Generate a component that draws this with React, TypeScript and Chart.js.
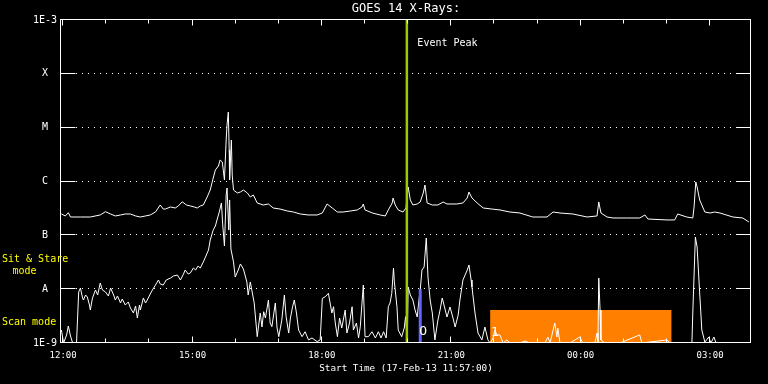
import React, { useEffect, useRef } from "react";
import { Chart, registerables } from "chart.js";

Chart.register(...registerables);

// ---------- data ----------
const titleText = "GOES 14 X-Rays:";
const xTitleText = "Start Time (17-Feb-13 11:57:00)";

// hours since 00:00 17-Feb-13 (values > 24 are on 18-Feb)
const xStart = 11.95;
const xEnd = 27.95;
const xTickHours = [12, 15, 18, 21, 24, 27];
const xTickLabels = ["12:00", "15:00", "18:00", "21:00", "00:00", "03:00"];
const xMinorHours = [13, 14, 16, 17, 19, 20, 22, 23, 25, 26];

const yTickValues = [1e-9, 1e-8, 1e-7, 1e-6, 1e-5, 1e-4, 1e-3];
const yTickLabels = ["1E-9", "A", "B", "C", "M", "X", "1E-3"];
const yGridValues = [1e-8, 1e-7, 1e-6, 1e-5, 1e-4];

// 1-8 Angstrom (long) channel
const longTimes = [
  11.96, 12.05, 12.12, 12.17, 12.4, 12.63, 12.86, 12.98, 13.1, 13.21,
  13.33, 13.44, 13.56, 13.68, 13.79, 13.91, 14.02, 14.14, 14.25, 14.32,
  14.37, 14.49, 14.6, 14.67, 14.76, 14.86, 14.95, 15.04, 15.11, 15.18,
  15.25, 15.34, 15.41, 15.48, 15.53, 15.6, 15.64, 15.69, 15.74, 15.78,
  15.8, 15.83, 15.85, 15.86, 15.9, 15.92, 15.95, 16.04, 16.11, 16.18,
  16.27, 16.34, 16.41, 16.5, 16.64, 16.76, 16.87, 17.03, 17.2, 17.34,
  17.5, 17.68, 17.89, 18.01, 18.12, 18.24, 18.36, 18.49, 18.66, 18.82,
  18.93, 18.96, 19.0, 19.17, 19.35, 19.47, 19.54, 19.63, 19.65, 19.7,
  19.77, 19.88, 19.95, 20.0, 20.05, 20.11, 20.21, 20.28, 20.35, 20.39,
  20.44, 20.56, 20.69, 20.81, 20.9, 21.13, 21.27, 21.37, 21.41, 21.48,
  21.6, 21.74, 21.94, 22.13, 22.36, 22.59, 22.89, 23.22, 23.36, 23.52,
  23.82, 24.15, 24.38, 24.42, 24.47, 24.61, 24.75, 25.07, 25.37, 25.49,
  25.56, 26.0, 26.18, 26.25, 26.46, 26.6, 26.63, 26.67, 26.7, 26.76,
  26.88, 27.0, 27.11, 27.23, 27.53, 27.76, 27.9,
];
const longFlux = [
  2.49e-7, 2.29e-7, 2.63e-7, 2.19e-7, 2.19e-7, 2.19e-7, 2.39e-7, 2.75e-7, 2.49e-7, 2.29e-7,
  2.39e-7, 2.49e-7, 2.49e-7, 2.29e-7, 2.19e-7, 2.29e-7, 2.39e-7, 2.71e-7, 3.66e-7, 3.08e-7,
  3.08e-7, 3.36e-7, 3.22e-7, 3.51e-7, 4.2e-7, 3.66e-7, 3.51e-7, 3.36e-7, 3.22e-7, 3.51e-7,
  3.66e-7, 5.16e-7, 6.95e-7, 1.16e-6, 1.64e-6, 1.94e-6, 2.51e-6, 2.3e-6, 1.07e-6, 5.9e-6,
  1.12e-5, 1.95e-5, 3.85e-6, 1.07e-6, 5.9e-6, 1.32e-6, 6.95e-7, 6.12e-7, 6.38e-7, 6.95e-7,
  6.12e-7, 5.16e-7, 5.61e-7, 3.99e-7, 3.66e-7, 3.82e-7, 3.22e-7, 3.08e-7, 2.83e-7, 2.71e-7,
  2.49e-7, 2.39e-7, 2.39e-7, 2.6e-7, 3.82e-7, 3.22e-7, 2.71e-7, 2.71e-7, 2.83e-7, 2.96e-7,
  3.36e-7, 3.82e-7, 2.96e-7, 2.6e-7, 2.39e-7, 2.29e-7, 2.96e-7, 3.99e-7, 4.94e-7, 3.66e-7,
  2.96e-7, 2.71e-7, 3.22e-7, 7.91e-7, 4.54e-7, 3.66e-7, 3.82e-7, 4.16e-7, 6.12e-7, 8.61e-7,
  3.99e-7, 3.66e-7, 3.66e-7, 4.16e-7, 3.82e-7, 3.82e-7, 3.99e-7, 4.94e-7, 6.38e-7, 4.94e-7,
  3.99e-7, 3.22e-7, 3.08e-7, 2.96e-7, 2.71e-7, 2.6e-7, 2.19e-7, 2.19e-7, 2.71e-7, 2.6e-7,
  2.49e-7, 2.19e-7, 2.29e-7, 4.16e-7, 2.6e-7, 2.19e-7, 2.1e-7, 2.1e-7, 2.1e-7, 2.39e-7,
  2.01e-7, 1.93e-7, 1.93e-7, 2.49e-7, 2.19e-7, 2.1e-7, 3.36e-7, 9.8e-7, 7.91e-7, 4.54e-7,
  2.71e-7, 2.6e-7, 2.71e-7, 2.6e-7, 2.19e-7, 2.1e-7, 1.77e-7,
];

// 0.5-4 Angstrom (short) channel
const shortTimes = [
  11.96, 12.01, 12.08, 12.12, 12.17, 12.22, 12.31, 12.36, 12.4, 12.45,
  12.47, 12.52, 12.56, 12.61, 12.63, 12.68, 12.75, 12.8, 12.86, 12.91,
  12.98, 13.05, 13.1, 13.17, 13.21, 13.26, 13.33, 13.37, 13.44, 13.51,
  13.56, 13.63, 13.68, 13.72, 13.77, 13.79, 13.86, 13.91, 13.95, 14.02,
  14.07, 14.14, 14.21, 14.25, 14.32, 14.39, 14.49, 14.56, 14.65, 14.72,
  14.79, 14.83, 14.9, 14.95, 15.02, 15.07, 15.13, 15.18, 15.25, 15.3,
  15.37, 15.41, 15.48, 15.53, 15.58, 15.62, 15.67, 15.7, 15.74, 15.78,
  15.8, 15.84, 15.86, 15.89, 15.95, 15.99, 16.06, 16.11, 16.18, 16.26,
  16.29, 16.34,
  16.43, 16.5, 16.57, 16.61, 16.65, 16.69, 16.76, 16.8, 16.84, 16.92,
  16.96, 17.0, 17.07, 17.13, 17.17, 17.23, 17.27, 17.32, 17.36, 17.41,
  17.46, 17.54, 17.61, 17.69, 17.77, 17.89, 17.96, 18.01, 18.08, 18.15,
  18.19, 18.23, 18.27, 18.31, 18.36, 18.41, 18.46, 18.54, 18.58, 18.64,
  18.7, 18.73, 18.8, 18.85, 18.89, 18.96, 19.0, 19.08, 19.16, 19.24,
  19.31, 19.37, 19.43, 19.49, 19.54, 19.58, 19.62, 19.66, 19.68, 19.74,
  19.77, 19.85, 19.91, 19.94, 19.98,
  20.0, 20.05, 20.11, 20.16, 20.21, 20.25, 20.28, 20.32, 20.37, 20.42,
  20.46, 20.51, 20.56, 20.62, 20.69, 20.74, 20.79, 20.86, 20.9, 20.97,
  21.04, 21.09, 21.16, 21.2, 21.27, 21.32, 21.37, 21.41, 21.46, 21.48,
  21.55, 21.62, 21.71, 21.78, 21.85, 21.9, 21.97, 22.01, 22.06, 22.13,
  22.2, 22.29, 22.36, 22.59, 22.71, 22.82, 23.17, 23.24, 23.29, 23.4,
  23.45, 23.47, 23.52, 23.75, 23.98, 24.05, 24.33, 24.38, 24.4, 24.42,
  24.45, 24.47, 24.56, 24.91, 25.37, 25.42, 26.0, 26.07, 26.58, 26.6,
  26.66, 26.7, 26.76, 26.81, 26.88, 26.97, 27.02, 27.09, 27.14, 27.95,
];
const shortFlux = [
  1.74e-9, 1e-9, 1.41e-9, 2.07e-9, 1.35e-9, 1e-9, 1e-9, 8.86e-9, 1.05e-8, 6.86e-9,
  6.29e-9, 7.79e-9, 7.16e-9, 5.08e-9, 4.1e-9, 6.86e-9, 9.66e-9, 7.79e-9, 1.3e-8, 9.66e-9,
  8.86e-9, 7.47e-9, 1.05e-8, 7.79e-9, 6.29e-9, 7.47e-9, 5.54e-9, 6.57e-9, 5.08e-9, 5.78e-9,
  4.47e-9, 3.61e-9, 4.87e-9, 2.91e-9, 5.08e-9, 4.1e-9, 6.86e-9, 5.54e-9, 6.29e-9, 8.13e-9,
  9.66e-9, 1.19e-8, 1.48e-8, 1.25e-8, 1.19e-8, 1.48e-8, 1.61e-8, 1.76e-8, 1.83e-8, 1.48e-8,
  1.91e-8, 2.27e-8, 1.91e-8, 2.0e-8, 2.47e-8, 2.27e-8, 2.69e-8, 2.47e-8, 3.2e-8, 3.96e-8,
  5.34e-8, 8.19e-8, 1.26e-7, 1.49e-7, 2.1e-7, 2.71e-7, 3.99e-7, 1.56e-7, 6.34e-8, 5.61e-7,
  7.57e-7, 1.26e-7, 4.54e-7, 5.57e-8, 3.2e-8, 1.68e-8, 2.27e-8, 2.94e-8, 2.37e-8, 1.36e-8,
  7.79e-9, 1.36e-8,
  5.54e-9, 1.31e-9, 3.61e-9, 1.98e-9, 3.81e-9, 2.91e-9, 6.29e-9, 2.35e-9, 2.01e-9, 5.54e-9,
  1.9e-9, 1.31e-9, 2.67e-9, 7.79e-9, 3.08e-9, 1.53e-9, 2.91e-9, 4.72e-9, 6.29e-9, 3.61e-9,
  1.74e-9, 1.31e-9, 1.62e-9, 1.14e-9, 1.24e-9, 1.06e-9, 1.14e-9, 6.76e-9, 7.24e-9, 8.38e-9,
  5.54e-9, 3.61e-9, 4.72e-9, 2.35e-9, 1.31e-9, 2.91e-9, 1.9e-9, 4.1e-9, 1.53e-9, 2.35e-9,
  4.72e-9, 1.74e-9, 2.35e-9, 1.24e-9, 2.01e-9, 1.19e-8, 1.31e-9, 1.31e-9, 1.62e-9, 1.24e-9,
  1.62e-9, 1.24e-9, 1.62e-9, 1.24e-9, 4.72e-9, 5.54e-9, 8.38e-9, 2.47e-8, 1.38e-8, 4.72e-9,
  1.74e-9, 1.31e-9, 1.9e-9, 3.08e-9, 1.14e-9,
  1.1e-8, 7.79e-9, 6.29e-9, 4.1e-9, 3.04e-9, 6.29e-9, 9.66e-9, 2.27e-8, 2.58e-8, 8.93e-8,
  1.68e-8, 6.29e-9, 3.61e-9, 1.14e-9, 2.67e-9, 4.1e-9, 6.86e-9, 4.1e-9, 3.04e-9, 4.67e-9,
  2.91e-9, 1.98e-9, 3.31e-9, 6.29e-9, 1.48e-8, 1.83e-8, 2.27e-8, 2.81e-8, 1.48e-8, 1.1e-8,
  3.61e-9, 1.53e-9, 1.14e-9, 1.98e-9, 1.14e-9, 1e-9, 1.24e-9, 1.74e-9, 1.41e-9, 1.41e-9,
  1e-9, 1.14e-9, 1e-9, 1e-9, 1.09e-9, 1e-9, 1e-9, 1.29e-9, 1e-9, 2.35e-9,
  1.29e-9, 1.9e-9, 1e-9, 1e-9, 1.29e-9, 1e-9, 1e-9, 1.53e-9, 1e-9, 1.61e-8,
  4.1e-9, 1.14e-9, 1e-9, 1e-9, 1.41e-9, 1e-9, 1.14e-9, 1e-9, 1e-9, 3.61e-9,
  9.31e-8, 6.07e-8, 8.49e-9, 1.74e-9, 1.04e-9, 1.29e-9, 1e-9, 1.29e-9, 1e-9, 1e-9,
];

// event markers
const eventPeakTime = 19.97;
const eventPeakLabel = "Event Peak";
const sitStareTime = 20.28;
const sitStareLevel = 1e-8;
const scanStart = 21.9;
const scanEnd = 26.11;
const scanLevel = 4.1e-9;
const markerLabels = ["O", "1"];
const markerTimes = [20.35, 22.01];
const markerFlux = [1.6e-9, 1.53e-9];
const modeLabels = ["Sit & Stare", "mode", "Scan mode"];

const MONO = "'DejaVu Sans Mono', 'Liberation Mono', monospace";

const framePlugin = {
  id: "goesFrame",
  beforeDraw(chart: any) {
    const { ctx, width, height } = chart;
    ctx.save();
    ctx.fillStyle = "#000";
    ctx.fillRect(0, 0, width, height);
    ctx.restore();
  },
  beforeDatasetsDraw(chart: any) {
    const { ctx, chartArea } = chart;
    const y = chart.scales.y;
    ctx.save();
    ctx.strokeStyle = "#fff";
    ctx.lineWidth = 1;
    ctx.setLineDash([1, 5]);
    for (const v of yGridValues) {
      const py = Math.round(y.getPixelForValue(v)) - 0.5;
      ctx.beginPath();
      ctx.moveTo(chartArea.left + 15, py);
      ctx.lineTo(chartArea.right - 14, py);
      ctx.stroke();
    }
    ctx.restore();
  },
  afterDatasetsDraw(chart: any) {
    const { ctx, chartArea } = chart;
    const x = chart.scales.x;
    const y = chart.scales.y;
    const L = chartArea.left - 0.5;
    const R = chartArea.right - 0.5;
    const T = chartArea.top - 0.5;
    const B = chartArea.bottom - 0.5;
    ctx.save();
    ctx.strokeStyle = "#fff";
    ctx.lineWidth = 1;
    ctx.setLineDash([]);
    ctx.strokeRect(L, T, R - L, B - T);
    // y ticks (inside, both sides)
    ctx.beginPath();
    for (const v of yGridValues) {
      const py = Math.round(y.getPixelForValue(v)) - 0.5;
      ctx.moveTo(L, py);
      ctx.lineTo(L + 15, py);
      ctx.moveTo(R - 14, py);
      ctx.lineTo(R, py);
    }
    // x ticks (inside, top and bottom)
    const drawXTick = (h: number, len: number) => {
      const px = Math.round(x.getPixelForValue(h)) - 0.5;
      ctx.moveTo(px, B);
      ctx.lineTo(px, B - len);
      ctx.moveTo(px, T);
      ctx.lineTo(px, T + len);
    };
    xTickHours.forEach((h) => drawXTick(h, 6));
    xMinorHours.forEach((h) => drawXTick(h, 4));
    ctx.stroke();

    // marker glyphs
    ctx.fillStyle = "#fff";
    ctx.font = `13px ${MONO}`;
    ctx.textAlign = "center";
    ctx.textBaseline = "middle";
    markerLabels.forEach((t, i) => {
      ctx.fillText(t, x.getPixelForValue(markerTimes[i]), y.getPixelForValue(markerFlux[i]));
    });

    // event peak label
    ctx.font = `10px ${MONO}`;
    ctx.textAlign = "left";
    ctx.fillText(eventPeakLabel, x.getPixelForValue(eventPeakTime) + 10.5, chartArea.top + 23.5);
    ctx.restore();
  },
  afterDraw(chart: any) {
    const { ctx } = chart;
    ctx.save();
    ctx.fillStyle = "#ffff00";
    ctx.font = `10px ${MONO}`;
    ctx.textAlign = "left";
    ctx.textBaseline = "middle";
    ctx.fillText(modeLabels[0], 2, 259);
    ctx.fillText(modeLabels[1], 12.5, 271);
    ctx.fillText(modeLabels[2], 2, 322.5);
    ctx.restore();
  },
};

function findLabel(values: number[], labels: string[], v: number) {
  const i = values.findIndex((t) => Math.abs(t - v) <= Math.abs(t) * 1e-6);
  return i >= 0 ? labels[i] : "";
}

export default function App() {
  const ref = useRef<HTMLCanvasElement>(null);

  useEffect(() => {
    document.body.style.margin = "0";
    document.body.style.background = "#000";
    const canvas = ref.current;
    if (!canvas) return;

    const longData = longTimes.map((t, i) => ({ x: t, y: longFlux[i] }));
    const shortData = shortTimes.map((t, i) => ({ x: t, y: shortFlux[i] }));

    const chart = new Chart(canvas, {
      type: "line",
      data: {
        datasets: [
          {
            label: "Scan mode",
            data: [
              { x: scanStart, y: scanLevel },
              { x: scanEnd, y: scanLevel },
            ],
            borderWidth: 0,
            borderColor: "rgba(0,0,0,0)",
            backgroundColor: "#ff8000",
            fill: "start",
            pointRadius: 0,
            order: 5,
          },
          {
            label: "Short",
            data: shortData,
            borderColor: "#ffffff",
            borderWidth: 1,
            pointRadius: 0,
            tension: 0,
            fill: false,
            order: 4,
          },
          {
            label: "Long",
            data: longData,
            borderColor: "#ffffff",
            borderWidth: 1,
            pointRadius: 0,
            tension: 0,
            fill: false,
            order: 3,
          },
          {
            label: "Sit & Stare",
            data: [
              { x: sitStareTime, y: 1e-9 },
              { x: sitStareTime, y: sitStareLevel },
            ],
            borderColor: "#6464ff",
            borderWidth: 3,
            pointRadius: 0,
            fill: false,
            order: 2,
          },
          {
            label: "Event Peak",
            data: [
              { x: eventPeakTime, y: 1e-9 },
              { x: eventPeakTime, y: 1e-3 },
            ],
            borderColor: "#99cc00",
            borderWidth: 2.5,
            pointRadius: 0,
            fill: false,
            order: 1,
          },
        ],
      } as any,
      options: {
        animation: false,
        responsive: false,
        devicePixelRatio: 1,
        layout: { padding: { left: 0, right: 17, top: 0, bottom: 0 } },
        plugins: {
          legend: { display: false },
          tooltip: { enabled: false },
          title: {
            display: true,
            text: titleText,
            color: "#ffffff",
            fullSize: false,
            font: { family: MONO, size: 12, weight: "normal" },
            padding: { top: 2, bottom: 3.6 },
          },
        },
        scales: {
          x: {
            type: "linear",
            min: xStart,
            max: xEnd,
            afterBuildTicks: (s: any) => {
              s.ticks = xTickHours.map((v) => ({ value: v }));
            },
            afterFit: (s: any) => {
              s.height = 41;
            },
            ticks: {
              autoSkip: false,
              maxRotation: 0,
              color: "#ffffff",
              padding: 7,
              font: { family: MONO, size: 9 },
              callback: (v: any) => findLabel(xTickHours, xTickLabels, Number(v)),
            },
            grid: { display: false, drawTicks: false },
            border: { display: false },
            title: {
              display: true,
              text: xTitleText,
              color: "#ffffff",
              font: { family: MONO, size: 9.3 },
              padding: { top: 0, bottom: 10 },
            },
          },
          y: {
            type: "logarithmic",
            min: 1e-9,
            max: 1e-3,
            afterBuildTicks: (s: any) => {
              s.ticks = yTickValues.map((v) => ({ value: v }));
            },
            afterFit: (s: any) => {
              s.width = 61;
            },
            ticks: {
              autoSkip: false,
              color: "#ffffff",
              padding: 4,
              crossAlign: "center",
              font: { family: MONO, size: 10 },
              callback: (v: any) => findLabel(yTickValues, yTickLabels, Number(v)),
            },
            grid: { display: false, drawTicks: false },
            border: { display: false },
          },
        },
      } as any,
      plugins: [framePlugin],
    });

    return () => chart.destroy();
  }, []);

  return (
    <div style={{ width: 768, height: 384, background: "#000" }}>
      <canvas ref={ref} width={768} height={384} style={{ display: "block" }} />
    </div>
  );
}
